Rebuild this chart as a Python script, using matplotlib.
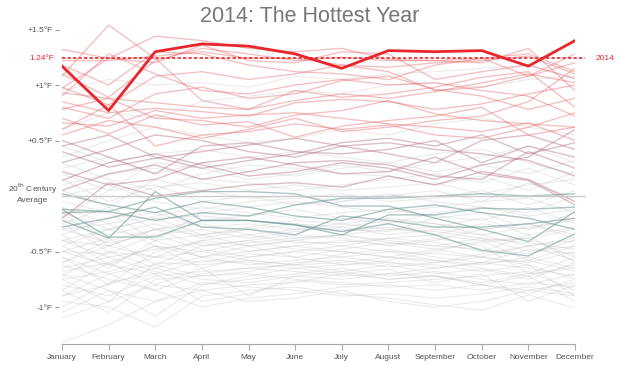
import matplotlib
matplotlib.use("Agg")
import matplotlib.pyplot as plt

plt.rcParams["font.family"] = ["Liberation Sans", "DejaVu Sans"]

months = ["January", "February", "March", "April", "May", "June", "July",
          "August", "September", "October", "November", "December"]

# 2014 monthly anomalies (°F vs 20th century average)
year_2014 = [1.17, 0.77, 1.30, 1.37, 1.35, 1.28, 1.15, 1.31, 1.30, 1.31, 1.17, 1.40]
annual_2014 = 1.24

# hottest earlier years (red)
hot_years = [
    [1.08, 1.54, 1.24, 0.86, 0.78, 0.86, 0.92, 0.88, 0.94, 1.02, 1.10, 1.02],
    [1.10, 0.89, 1.22, 1.33, 1.28, 1.22, 1.25, 1.22, 1.22, 1.24, 1.28, 1.12],
    [1.32, 1.24, 1.44, 1.40, 1.33, 1.30, 1.33, 1.23, 1.22, 1.20, 1.33, 0.95],
    [0.97, 1.24, 1.20, 1.36, 1.22, 1.20, 1.30, 1.28, 1.05, 1.12, 1.18, 1.06],
    [1.22, 1.22, 1.26, 1.30, 1.24, 1.24, 1.18, 1.16, 1.20, 1.22, 1.26, 1.10],
    [0.98, 0.82, 1.08, 1.12, 1.05, 1.10, 1.18, 1.12, 0.95, 0.98, 1.08, 1.20],
    [0.93, 0.88, 0.84, 0.80, 0.78, 0.95, 0.89, 0.92, 0.98, 1.07, 1.12, 0.80],
    [0.85, 0.75, 0.79, 0.76, 0.72, 0.84, 0.87, 0.85, 0.78, 0.83, 0.92, 1.00],
    [0.78, 0.88, 0.70, 0.68, 0.62, 0.73, 0.77, 0.86, 0.74, 0.68, 0.65, 0.62],
    [0.70, 0.56, 0.73, 0.64, 0.67, 0.53, 0.63, 0.68, 0.72, 0.80, 0.55, 0.62],
    [0.66, 0.63, 0.77, 0.70, 0.73, 0.75, 0.70, 0.65, 0.62, 0.58, 0.66, 0.50],
    [0.60, 0.82, 0.45, 0.55, 0.58, 0.65, 0.60, 0.64, 0.55, 0.52, 0.62, 0.75],
    [0.90, 1.28, 1.10, 0.95, 0.92, 1.00, 1.05, 1.00, 1.02, 0.95, 0.90, 0.72],
    [1.18, 1.00, 1.30, 1.28, 1.18, 1.12, 1.10, 1.05, 1.18, 1.24, 1.08, 1.28],
    [0.55, 0.68, 0.62, 0.52, 0.60, 0.70, 0.58, 0.62, 0.68, 0.72, 0.85, 1.15],
    [0.80, 0.70, 0.92, 0.98, 0.88, 0.92, 1.04, 1.08, 0.96, 0.90, 0.78, 0.88],
]

# moderately warm years (mauve)
warm_years = [
    [0.50, 0.35, 0.20, 0.45, 0.48, 0.40, 0.38, 0.42, 0.50, 0.30, 0.45, 0.35],
    [0.30, 0.42, 0.55, 0.50, 0.40, 0.35, 0.45, 0.38, 0.30, 0.50, 0.55, 0.42],
    [0.40, 0.26, 0.34, 0.40, 0.46, 0.52, 0.45, 0.48, 0.42, 0.38, 0.32, 0.18],
    [0.14, 0.30, 0.38, 0.28, 0.18, 0.22, 0.30, 0.25, 0.15, 0.28, 0.35, 0.60],
    [0.22, 0.10, 0.15, 0.30, 0.35, 0.28, 0.20, 0.22, 0.35, 0.20, 0.14, -0.08],
    [-0.20, 0.12, 0.00, 0.05, 0.10, 0.12, 0.08, 0.18, 0.10, 0.22, 0.15, -0.05],
    [0.05, 0.20, 0.28, 0.15, 0.22, 0.30, 0.32, 0.28, 0.18, 0.15, 0.40, 0.25],
    [0.45, 0.55, 0.35, 0.25, 0.32, 0.38, 0.48, 0.52, 0.45, 0.55, 0.38, 0.48],
]

# mid-century years (slate / teal)
mid_years = [
    [-0.12, -0.14, -0.02, 0.04, 0.04, 0.02, -0.09, -0.09, -0.20, -0.30, -0.41, -0.14],
    [-0.22, -0.38, 0.04, -0.22, -0.22, -0.26, -0.35, -0.17, -0.17, -0.11, -0.12, -0.10],
    [-0.12, -0.37, -0.37, -0.22, -0.22, -0.26, -0.32, -0.25, -0.35, -0.49, -0.54, -0.34],
    [-0.15, -0.14, -0.22, -0.15, -0.18, -0.08, -0.02, -0.02, 0.00, 0.02, 0.00, 0.02],
    [-0.28, -0.20, -0.10, -0.28, -0.30, -0.35, -0.18, -0.22, -0.28, -0.28, -0.25, -0.20],
    [0.02, -0.08, -0.15, -0.05, -0.10, -0.18, -0.22, -0.12, -0.08, -0.15, -0.20, -0.30],
]

# older / cooler years (faint gray)
old_years = [
    [-1.32, -1.16, -0.95, -0.85, -0.80, -0.78, -0.70, -0.75, -0.72, -0.80, -0.85, -0.78],
    [-0.95, -1.00, -1.18, -0.90, -0.85, -0.82, -0.88, -0.92, -0.98, -1.03, -0.89, -1.01],
    [-0.70, -0.85, -1.08, -0.80, -0.75, -0.70, -0.65, -0.72, -0.68, -0.75, -0.80, -0.70],
    [-1.00, -0.78, -0.70, -0.95, -0.88, -0.76, -0.80, -0.78, -0.75, -0.72, -0.68, -0.85],
    [-0.85, -0.60, -0.80, -0.65, -0.90, -0.72, -0.68, -0.62, -0.70, -0.66, -0.75, -0.60],
    [-0.55, -0.70, -0.62, -0.72, -0.68, -0.60, -0.58, -0.64, -0.60, -0.55, -0.62, -0.90],
    [-0.60, -0.45, -0.55, -0.50, -0.58, -0.62, -0.52, -0.48, -0.55, -0.60, -0.48, -0.52],
    [-0.40, -0.55, -0.48, -0.42, -0.50, -0.45, -0.40, -0.44, -0.38, -0.45, -0.70, -0.55],
    [-0.75, -0.68, -0.55, -0.60, -0.52, -0.55, -0.62, -0.58, -0.50, -0.40, -0.58, -0.45],
    [-0.45, -0.30, -0.40, -0.55, -0.45, -0.40, -0.45, -0.38, -0.42, -0.50, -0.35, -0.60],
    [-0.30, -0.42, -0.35, -0.30, -0.38, -0.32, -0.28, -0.35, -0.30, -0.35, -0.45, -0.38],
    [-0.20, -0.35, -0.25, -0.38, -0.30, -0.25, -0.32, -0.28, -0.35, -0.25, -0.30, -0.20],
    [-0.50, -0.38, -0.62, -0.45, -0.40, -0.48, -0.50, -0.55, -0.48, -0.42, -0.38, -0.30],
    [-0.35, -0.62, -0.45, -0.65, -0.55, -0.50, -0.55, -0.50, -0.58, -0.62, -0.55, -0.65],
    [-0.80, -0.90, -0.72, -0.68, -0.65, -0.68, -0.72, -0.70, -0.65, -0.60, -0.65, -0.72],
    [-0.65, -0.55, -0.68, -0.80, -0.72, -0.65, -0.70, -0.66, -0.78, -0.70, -0.95, -0.80],
    [-0.10, -0.25, -0.18, -0.10, -0.15, -0.20, -0.15, -0.12, -0.18, -0.22, -0.10, -0.25],
    [0.00, 0.10, -0.05, -0.12, -0.05, -0.02, 0.02, -0.05, -0.02, 0.05, -0.08, 0.05],
    [0.15, -0.05, 0.08, 0.12, 0.05, 0.10, 0.05, 0.08, 0.12, 0.02, 0.10, 0.15],
    [0.25, 0.35, 0.20, 0.30, 0.22, 0.18, 0.25, 0.30, 0.22, 0.28, 0.20, 0.32],
    [0.45, 0.30, 0.38, 0.42, 0.35, 0.40, 0.35, 0.30, 0.38, 0.42, 0.30, 0.20],
    [-0.25, -0.10, -0.30, -0.22, -0.18, -0.12, -0.20, -0.25, -0.15, -0.10, -0.18, -0.12],
    [-0.55, -0.80, -0.50, -0.40, -0.45, -0.55, -0.48, -0.42, -0.45, -0.48, -0.52, -0.40],
    [-0.90, -0.70, -0.85, -1.00, -0.92, -0.88, -0.82, -0.80, -0.85, -0.80, -0.72, -0.95],
    [-0.45, -0.65, -0.40, -0.35, -0.30, -0.38, -0.35, -0.40, -0.45, -0.38, -0.42, -0.48],
    [-0.15, -0.45, -0.30, -0.25, -0.35, -0.30, -0.25, -0.20, -0.25, -0.30, -0.25, -0.35],
    [-0.60, -0.40, -0.30, -0.45, -0.40, -0.35, -0.38, -0.45, -0.40, -0.30, -0.25, -0.38],
    [-0.35, -0.20, -0.15, -0.28, -0.25, -0.30, -0.30, -0.32, -0.20, -0.15, -0.30, -0.15],
    [0.10, 0.20, 0.25, 0.15, 0.12, 0.05, 0.10, 0.15, 0.20, 0.12, 0.25, 0.10],
    [0.30, 0.15, 0.05, 0.20, 0.28, 0.25, 0.20, 0.18, 0.10, 0.18, 0.05, 0.22],
    [-0.72, -0.50, -0.65, -0.55, -0.62, -0.58, -0.55, -0.60, -0.62, -0.68, -0.62, -0.75],
    [-0.85, -1.05, -0.75, -0.72, -0.70, -0.75, -0.78, -0.82, -0.80, -0.85, -0.78, -0.82],
    [-0.05, -0.15, -0.40, -0.15, -0.10, -0.05, -0.10, -0.15, -0.10, -0.05, -0.02, -0.15],
    [-0.40, -0.30, -0.20, -0.35, -0.45, -0.40, -0.35, -0.30, -0.32, -0.38, -0.50, -0.45],
    [0.20, 0.05, 0.30, 0.25, 0.15, 0.20, 0.28, 0.22, 0.30, 0.35, 0.45, 0.30],
    [-0.20, 0.05, 0.10, -0.05, 0.00, -0.08, -0.05, 0.00, 0.05, -0.05, 0.12, -0.02],
    [-1.05, -0.85, -0.95, -0.78, -0.82, -0.85, -0.90, -0.88, -0.92, -0.88, -0.82, -0.88],
    [-0.62, -0.75, -0.85, -0.70, -0.65, -0.62, -0.60, -0.55, -0.58, -0.65, -0.72, -0.62],
    [-0.50, -0.52, -0.35, -0.48, -0.55, -0.50, -0.45, -0.50, -0.52, -0.55, -0.60, -0.50],
    [-0.25, -0.50, -0.55, -0.40, -0.35, -0.42, -0.42, -0.38, -0.35, -0.40, -0.38, -0.55],
    [0.60, 0.75, 0.70, 0.85, 0.90, 0.95, 0.92, 1.00, 1.02, 0.98, 1.05, 1.08],
    [0.95, 1.05, 1.00, 1.02, 0.98, 1.08, 1.05, 1.10, 1.12, 1.15, 1.18, 1.05],
    [0.35, 0.50, 0.62, 0.55, 0.48, 0.52, 0.60, 0.55, 0.65, 0.70, 0.62, 0.55],
    [-0.75, -0.95, -0.60, -0.62, -0.58, -0.62, -0.68, -0.75, -0.72, -0.78, -0.70, -0.65],
    [-0.50, -0.62, -0.70, -0.58, -0.60, -0.65, -0.62, -0.60, -0.65, -0.60, -0.58, -0.68],
    [-0.30, -0.25, -0.45, -0.50, -0.42, -0.38, -0.35, -0.42, -0.48, -0.55, -0.45, -0.40],
    [-0.15, -0.30, -0.20, -0.18, -0.22, -0.25, -0.28, -0.22, -0.25, -0.35, -0.28, -0.22],
    [-0.68, -0.60, -0.45, -0.55, -0.50, -0.45, -0.50, -0.55, -0.60, -0.52, -0.45, -0.58],
    [-0.90, -0.80, -0.65, -0.75, -0.78, -0.72, -0.75, -0.70, -0.72, -0.80, -0.88, -0.75],
    [0.05, -0.10, 0.15, 0.05, -0.02, 0.00, -0.05, 0.02, -0.05, -0.10, -0.15, 0.00],
    [-0.40, -0.45, -0.30, -0.35, -0.28, -0.22, -0.25, -0.30, -0.28, -0.20, -0.35, -0.28],
    [-1.10, -0.95, -0.80, -0.85, -0.95, -0.92, -0.85, -0.95, -1.00, -0.95, -0.85, -0.90],
]

y_ticks = [1.5, 1.0, 0.5, -0.5, -1.0]
y_tick_labels = ["+1.5°F", "+1°F", "+0.5°F", "-0.5°F", "-1°F"]

fig = plt.figure(figsize=(6.19, 3.65), dpi=100)
ax = fig.add_axes([62 / 619, 21 / 365, 513 / 619, (344 - 18.4) / 365])
x = list(range(len(months)))

for row in old_years:
    ax.plot(x, row, color=(0.74, 0.74, 0.74), alpha=0.3, lw=0.8, zorder=1)
for row in mid_years:
    ax.plot(x, row, color=(0.42, 0.58, 0.58), alpha=0.55, lw=1.0, zorder=2)
for row in warm_years:
    ax.plot(x, row, color=(0.70, 0.45, 0.50), alpha=0.45, lw=1.0, zorder=2)
for row in hot_years:
    ax.plot(x, row, color=(0.90, 0.40, 0.42), alpha=0.42, lw=0.95, zorder=3)

ext = 11.21
ax.plot([0, ext], [0, 0], color="#cccccc", lw=1.0, zorder=2, clip_on=False)
ax.plot([0, ext], [annual_2014, annual_2014], color="#e8262b", lw=1.2,
        linestyle=(0, (2, 1.3)), zorder=5, clip_on=False)
ax.plot(x, year_2014, color="#e8262b", lw=2.0, zorder=6)

ax.set_xlim(0, 11)
ax.set_ylim(-1.333, 1.6)
for s in ["top", "right", "left"]:
    ax.spines[s].set_visible(False)
ax.spines["left"].set_position(("outward", 2))
ax.spines["bottom"].set_color("#aaaaaa")
ax.set_xticks(x)
ax.set_xticklabels(months, fontsize=6.0, color="#555555")
ax.tick_params(axis="x", length=4, color="#aaaaaa", pad=3)
ax.set_yticks(y_ticks)
ax.set_yticklabels(y_tick_labels, fontsize=6.0, color="#555555")
ax.tick_params(axis="y", length=3, color="#999999", pad=1.5, direction="out")

ax.text(-0.17, annual_2014, "1.24°F", color="#e8262b", fontsize=6.0,
        ha="right", va="center")
ax.text(11.45, annual_2014, "2014", color="#e8262b", fontsize=6.0,
        ha="left", va="center")
ax.text(-0.62, 0.03, "20$^{\\mathrm{th}}$ Century\nAverage", color="#555555",
        fontsize=6.0, ha="center", va="center", linespacing=1.25,
        multialignment="center")

fig.text(0.5, 1 - 17 / 365, "2014: The Hottest Year", ha="center", va="center",
         fontsize=15.5, color="#777777")

fig.savefig("out.png", dpi=100)
